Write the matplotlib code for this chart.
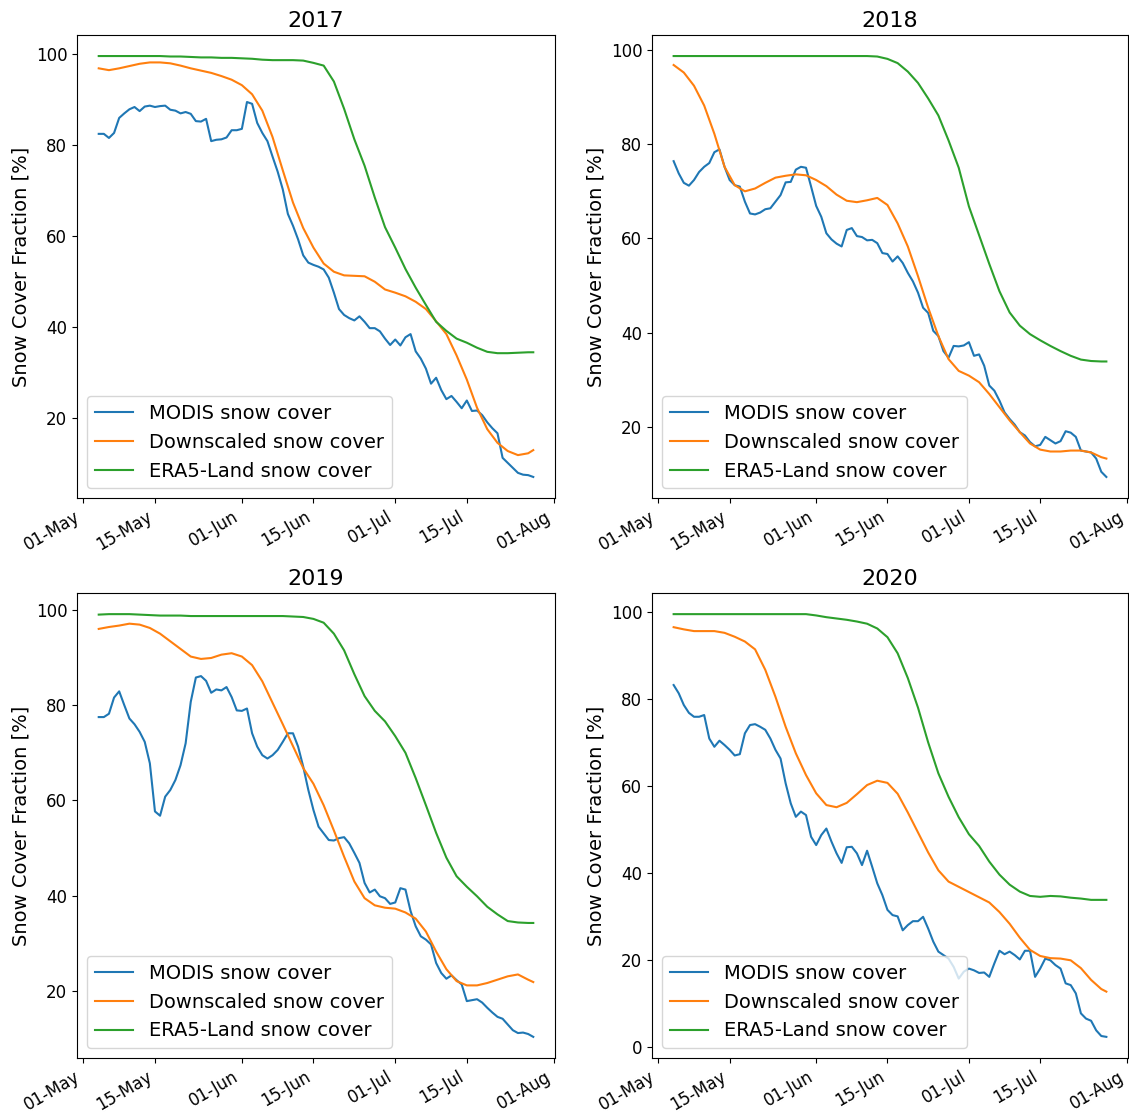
import matplotlib
matplotlib.use("Agg")
import matplotlib.pyplot as plt
import matplotlib.dates as mdates
import numpy as np

years = [2017, 2018, 2019, 2020]
series_labels = ["MODIS snow cover", "Downscaled snow cover", "ERA5-Land snow cover"]
ylabel_text = "Snow Cover Fraction [%]"

# MODIS: daily values, 04-May .. 28-Jul
modis_2017 = [82.5, 82.5, 81.6, 82.7, 86.0, 87.0, 87.9, 88.4, 87.5, 88.5,
              88.7, 88.4, 88.6, 88.7, 87.8, 87.6, 87.0, 87.3, 86.9, 85.3,
              85.2, 85.8, 80.9, 81.2, 81.3, 81.7, 83.3, 83.3, 83.6, 89.5,
              89.1, 84.9, 82.7, 80.9, 77.5, 74.2, 70.3, 64.9, 62.3, 59.3,
              55.8, 54.2, 53.7, 53.3, 52.7, 50.9, 47.6, 44.0, 42.7, 42.0,
              41.5, 42.4, 41.2, 39.8, 39.8, 39.1, 37.5, 36.1, 37.3, 36.0,
              37.8, 38.5, 34.7, 33.1, 30.9, 27.6, 28.9, 26.2, 24.2, 24.9,
              23.6, 22.2, 23.9, 21.6, 21.7, 20.7, 19.1, 17.8, 16.7, 11.3,
              10.2, 9.1, 8.0, 7.6, 7.5, 7.1]
modis_2018 = [76.4, 73.8, 71.8, 71.2, 72.4, 74.1, 75.2, 76.0, 78.3, 78.9,
              75.2, 72.4, 71.3, 71.0, 67.8, 65.3, 65.1, 65.5, 66.2, 66.4,
              67.8, 69.2, 71.9, 72.0, 74.6, 75.2, 75.0, 71.0, 66.9, 64.6,
              61.1, 59.8, 58.9, 58.3, 61.8, 62.2, 60.5, 60.3, 59.6, 59.7,
              59.0, 56.9, 56.7, 55.1, 56.2, 54.8, 52.7, 50.9, 48.5, 45.3,
              44.2, 40.4, 39.3, 36.1, 34.7, 37.2, 37.1, 37.3, 38.0, 35.1,
              35.4, 33.0, 28.8, 27.7, 25.6, 23.1, 21.7, 20.5, 18.9, 18.2,
              16.8, 15.9, 16.2, 17.9, 17.2, 16.5, 17.0, 19.1, 18.8, 17.9,
              15.0, 14.8, 14.6, 13.3, 10.5, 9.4]
modis_2019 = [77.5, 77.5, 78.2, 81.6, 82.9, 80.0, 77.2, 76.0, 74.4, 72.3,
              67.8, 57.7, 56.8, 60.8, 62.2, 64.3, 67.4, 72.0, 80.7, 85.8,
              86.1, 85.1, 82.6, 83.3, 83.1, 83.8, 81.7, 78.9, 78.8, 79.3,
              74.1, 71.3, 69.5, 68.8, 69.5, 70.6, 72.3, 74.1, 74.1, 71.3,
              67.1, 62.2, 58.0, 54.5, 53.1, 51.7, 51.6, 52.1, 52.3, 51.0,
              49.0, 46.9, 42.7, 40.7, 41.3, 39.9, 39.5, 38.3, 38.6, 41.6,
              41.3, 36.8, 33.6, 31.5, 30.8, 29.8, 25.9, 23.8, 22.6, 23.3,
              22.3, 21.4, 17.9, 18.1, 18.3, 17.6, 16.5, 15.5, 14.6, 14.2,
              13.0, 11.8, 11.2, 11.3, 11.0, 10.4]
modis_2020 = [83.2, 81.3, 78.6, 76.8, 75.9, 75.9, 76.3, 70.9, 69.0, 70.4,
              69.4, 68.3, 67.0, 67.3, 72.1, 74.0, 74.2, 73.6, 72.9, 70.9,
              68.3, 66.3, 60.6, 56.0, 52.9, 54.1, 53.3, 48.3, 46.4, 48.7,
              50.2, 47.2, 44.5, 42.3, 45.9, 46.0, 44.5, 41.8, 45.1, 41.4,
              37.6, 34.9, 31.5, 30.3, 30.0, 26.8, 28.0, 28.9, 28.9, 29.9,
              27.2, 24.2, 21.9, 21.1, 20.3, 18.4, 15.7, 17.3, 18.0, 17.6,
              17.0, 17.1, 16.1, 19.2, 22.1, 21.3, 21.9, 21.1, 20.1, 22.1,
              22.1, 16.1, 18.0, 20.3, 19.9, 18.8, 18.0, 14.6, 14.2, 12.3,
              7.7, 6.5, 6.0, 3.8, 2.5, 2.3]

# Smooth series: values every second day from 04-May, plus 28-Jul
smooth_days = list(range(3, 88, 2)) + [88]

down_2017 = [96.9, 96.5, 96.9, 97.4, 97.9, 98.2, 98.2, 98.0, 97.5, 96.9,
             96.4, 95.9, 95.2, 94.4, 93.2, 91.2, 87.6, 81.8, 74.5, 67.4,
             61.8, 57.5, 54.0, 52.2, 51.4, 51.3, 51.2, 50.0, 48.3, 47.6,
             46.8, 45.6, 44.0, 41.3, 38.5, 33.8, 28.5, 22.3, 17.6, 14.6,
             12.8, 11.9, 12.3, 13.0]
era5_2017 = [99.6, 99.6, 99.6, 99.6, 99.6, 99.6, 99.6, 99.5, 99.5, 99.4,
             99.3, 99.3, 99.2, 99.2, 99.1, 99.0, 98.8, 98.7, 98.7, 98.7,
             98.6, 98.1, 97.5, 94.0, 88.0, 81.3, 75.5, 68.5, 62.0, 57.5,
             52.8, 48.7, 44.9, 41.2, 39.2, 37.5, 36.6, 35.5, 34.6, 34.3,
             34.3, 34.4, 34.5, 34.5]
down_2018 = [96.8, 95.2, 92.4, 88.2, 82.2, 75.2, 71.3, 70.0, 70.6, 71.8,
             72.9, 73.3, 73.6, 73.4, 72.4, 71.1, 69.3, 68.0, 67.7, 68.1,
             68.6, 67.1, 63.2, 58.3, 52.0, 45.3, 39.3, 34.4, 31.9, 30.9,
             29.5, 27.0, 24.2, 21.4, 18.9, 16.5, 15.2, 14.8, 14.8, 15.0,
             15.0, 14.6, 13.6, 13.3]
era5_2018 = [98.7, 98.7, 98.7, 98.7, 98.7, 98.7, 98.7, 98.7, 98.7, 98.7,
             98.7, 98.7, 98.7, 98.7, 98.7, 98.7, 98.7, 98.7, 98.7, 98.7,
             98.6, 98.1, 97.2, 95.4, 93.0, 89.7, 86.1, 80.8, 75.0, 66.8,
             60.7, 54.6, 48.8, 44.3, 41.5, 39.7, 38.4, 37.2, 36.1, 35.1,
             34.3, 34.0, 33.9, 33.9]
down_2019 = [96.0, 96.4, 96.7, 97.1, 96.9, 96.2, 95.0, 93.4, 91.8, 90.2,
             89.7, 89.9, 90.6, 90.9, 90.2, 88.4, 85.0, 80.5, 76.0, 71.4,
             66.8, 63.5, 59.0, 53.7, 48.2, 43.0, 39.5, 38.0, 37.5, 37.3,
             36.5, 35.2, 32.5, 28.3, 24.6, 22.1, 21.2, 21.2, 21.7, 22.4,
             23.1, 23.5, 22.4, 21.9]
era5_2019 = [99.0, 99.1, 99.1, 99.1, 99.0, 98.9, 98.8, 98.8, 98.8, 98.7,
             98.7, 98.7, 98.7, 98.7, 98.7, 98.7, 98.7, 98.7, 98.7, 98.6,
             98.5, 98.1, 97.3, 95.0, 91.5, 86.5, 81.9, 78.8, 76.6, 73.5,
             70.0, 64.7, 59.0, 53.2, 48.0, 44.1, 41.9, 39.9, 37.7, 36.1,
             34.7, 34.4, 34.3, 34.3]
down_2020 = [96.5, 96.0, 95.6, 95.6, 95.6, 95.2, 94.3, 93.2, 91.4, 86.7,
             80.5, 73.6, 67.5, 62.5, 58.3, 55.6, 55.1, 56.1, 58.1, 60.2,
             61.2, 60.7, 58.2, 53.9, 49.3, 44.7, 40.6, 38.0, 36.8, 35.6,
             34.4, 33.2, 31.0, 28.3, 25.1, 22.3, 20.9, 20.4, 20.3, 19.9,
             18.1, 15.4, 13.3, 12.7]
era5_2020 = [99.5, 99.5, 99.5, 99.5, 99.5, 99.5, 99.5, 99.5, 99.5, 99.5,
             99.5, 99.5, 99.5, 99.5, 99.2, 98.8, 98.5, 98.2, 97.8, 97.3,
             96.2, 94.2, 90.5, 84.8, 78.0, 70.0, 62.9, 57.5, 52.8, 48.9,
             46.2, 42.6, 39.6, 37.3, 35.7, 34.7, 34.5, 34.7, 34.6, 34.3,
             34.1, 33.8, 33.8, 33.8]

modis = {2017: modis_2017, 2018: modis_2018, 2019: modis_2019, 2020: modis_2020}
down = {2017: down_2017, 2018: down_2018, 2019: down_2019, 2020: down_2020}
era5 = {2017: era5_2017, 2018: era5_2018, 2019: era5_2019, 2020: era5_2020}

W, H = 1129, 1115
fig = plt.figure(figsize=(W / 100, H / 100), dpi=100)

# axes boxes in pixels: left, top, right, bottom
boxes = [(77, 35, 555, 498), (652, 35, 1128, 498),
         (77, 593, 555, 1058), (652, 593, 1128, 1058)]

for year, (l, t, r, b) in zip(years, boxes):
    ax = fig.add_axes([l / W, 1 - b / H, (r - l) / W, (b - t) / H])
    base = np.datetime64(f"{year}-05-01")
    d_modis = base + np.arange(3, 3 + len(modis[year])).astype("timedelta64[D]")
    d_smooth = base + np.array(smooth_days).astype("timedelta64[D]")
    ax.plot(d_modis, modis[year], label=series_labels[0])
    ax.plot(d_smooth, down[year], label=series_labels[1])
    ax.plot(d_smooth, era5[year], label=series_labels[2])
    ax.xaxis.set_major_locator(mdates.DayLocator(bymonthday=[1, 15]))
    ax.xaxis.set_major_formatter(mdates.DateFormatter("%d-%b"))
    ax.tick_params(labelsize=12)
    plt.setp(ax.get_xticklabels(), rotation=30, ha="right")
    ax.set_ylabel(ylabel_text, fontsize=14)
    ax.set_title(str(year), fontsize=16)
    ax.legend(loc="lower left", fontsize=14)

fig.savefig("out.png", dpi=100)
